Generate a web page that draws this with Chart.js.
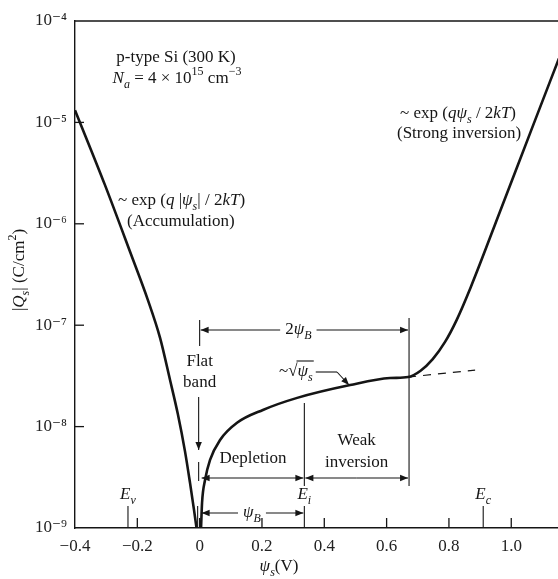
<!DOCTYPE html>
<html>
<head>
<meta charset="utf-8">
<script src="https://cdn.jsdelivr.net/npm/chart.js@4.4.1/dist/chart.umd.min.js"></script>
<style>
  body { margin: 0; background: #fff; }
  #wrap { width: 558px; height: 579px; }
</style>
</head>
<body>
<div id="wrap"><canvas id="myChart" width="558" height="579"></canvas></div>
<script>
var ctx = document.getElementById('myChart').getContext('2d');

/* accumulation branch (psi_s < 0) */
const accPsi = [-0.4, -0.304, -0.223, -0.166, -0.127, -0.095, -0.070, -0.047, -0.031, -0.018, -0.010];
const accQs = [1.32e-5, 2.42e-6, 5.27e-7, 1.77e-7, 7.5e-8, 2.88e-8, 1.33e-8, 5.7e-9, 2.8e-9, 1.5e-9, 1e-9];

/* depletion -> weak -> strong inversion branch */
const invPsi = [0.0045, 0.0077, 0.0173, 0.0334, 0.0655, 0.120, 0.203, 0.313, 0.483, 0.611, 0.669, 0.709, 0.748, 0.787, 0.825, 0.870, 0.967, 1.063, 1.153];
const invQs = [1e-9, 1.77e-9, 2.97e-9, 4.69e-9, 7.38e-9, 1.09e-8, 1.46e-8, 1.92e-8, 2.57e-8, 3.01e-8, 3.08e-8, 3.56e-8, 4.63e-8, 6.8e-8, 1.13e-7, 2.37e-7, 1.40e-6, 8.2e-6, 4.28e-5];

/* sqrt(psi_s) extension (dashed) */
const extPsi = [0.669, 0.884];
const extQs = [3.08e-8, 3.61e-8];

/* axis ticks */
const yTicks = [1e-9, 1e-8, 1e-7, 1e-6, 1e-5, 1e-4];
const xTicks = [-0.4, -0.2, 0, 0.2, 0.4, 0.6, 0.8, 1.0];

/* band-edge markers and psi_B */
const bandNames = ['v', 'i', 'c'];
const bandPsi = [-0.23, 0.336, 0.91];
const psiB = 0.336;

const serif = '"Liberation Serif", "DejaVu Serif", serif';
const ink = '#151515';
const fs = 17;
const sup = {'0':'⁰','1':'¹','2':'²','3':'³','4':'⁴','5':'⁵','6':'⁶','7':'⁷','8':'⁸','9':'⁹','-':'⁻'};

function pts(xs, ys) { return xs.map((x, i) => ({x: x, y: ys[i]})); }

function rich(c, x, y, parts, size, align) {
  const f = p => (p.i ? 'italic ' : '') + ((p.sub || p.sup) ? Math.round(size * 0.68) : size) + 'px ' + serif;
  let w = 0;
  parts.forEach(p => { c.font = f(p); w += c.measureText(p.t).width; });
  let cx = align === 'center' ? x - w / 2 : (align === 'right' ? x - w : x);
  c.textAlign = 'left';
  c.textBaseline = 'middle';
  const xs = [];
  parts.forEach(p => {
    c.font = f(p);
    const dy = p.sub ? size * 0.32 : (p.sup ? -size * 0.4 : 0);
    xs.push(cx);
    c.fillText(p.t, cx, y + dy);
    cx += c.measureText(p.t).width;
  });
  xs.push(cx);
  return xs;
}

function line(c, x1, y1, x2, y2) {
  c.beginPath(); c.moveTo(x1, y1); c.lineTo(x2, y2); c.stroke();
}

function arrow(c, x1, y1, x2, y2) {
  line(c, x1, y1, x2, y2);
  const a = Math.atan2(y2 - y1, x2 - x1), L = 8, W = 3.2;
  c.beginPath();
  c.moveTo(x2, y2);
  c.lineTo(x2 - L * Math.cos(a) + W * Math.sin(a), y2 - L * Math.sin(a) - W * Math.cos(a));
  c.lineTo(x2 - L * Math.cos(a) - W * Math.sin(a), y2 - L * Math.sin(a) + W * Math.cos(a));
  c.closePath();
  c.fill();
}

const notes = {
  id: 'notes',
  afterDraw(chart) {
    const c = chart.ctx, a = chart.chartArea;
    const X = chart.scales.x, Y = chart.scales.y;
    const px = v => X.getPixelForValue(v);
    c.save();
    c.strokeStyle = ink; c.fillStyle = ink; c.lineWidth = 1.3;

    // top frame line and inward tick marks
    line(c, a.left, a.top, a.right, a.top);
    xTicks.forEach(v => { if (v > X.min) line(c, px(v), a.bottom, px(v), a.bottom - 10); });
    yTicks.forEach(v => { const y = Y.getPixelForValue(v); if (v > Y.min && v < Y.max) line(c, a.left, y, a.left + 9, y); });

    c.lineWidth = 1.1;
    // sample description
    rich(c, 176, 58, [{t: 'p-type Si (300 K)'}], fs, 'center');
    rich(c, 177, 79, [{t: 'N', i: 1}, {t: 'a', i: 1, sub: 1}, {t: ' = 4 × 10'}, {t: '15', sup: 1}, {t: ' cm'}, {t: '−3', sup: 1}], fs, 'center');

    // accumulation
    rich(c, 118, 201, [{t: '~ exp ('}, {t: 'q', i: 1}, {t: ' |'}, {t: 'ψ', i: 1}, {t: 's', i: 1, sub: 1}, {t: '| / 2'}, {t: 'kT', i: 1}, {t: ')'}], fs, 'left');
    rich(c, 127, 222, [{t: '(Accumulation)'}], fs, 'left');

    // strong inversion
    rich(c, 400, 114, [{t: '~ exp ('}, {t: 'qψ', i: 1}, {t: 's', i: 1, sub: 1}, {t: ' / 2'}, {t: 'kT', i: 1}, {t: ')'}], fs, 'left');
    rich(c, 397, 134, [{t: '(Strong inversion)'}], fs, 'left');

    const x0 = px(0), xB = px(psiB), x2B = px(2 * psiB);

    // 2 psi_B bracket
    line(c, x0, 320, x0, 346);
    line(c, x2B, 318, x2B, 486);
    const lab = rich(c, (x0 + x2B) / 2 - 6, 330, [{t: '2'}, {t: 'ψ', i: 1}, {t: 'B', i: 1, sub: 1}], fs, 'center');
    arrow(c, lab[0] - 5, 330, x0 + 1, 330);
    arrow(c, lab[lab.length - 1] + 5, 330, x2B - 1, 330);

    // flat band
    rich(c, x0, 362, [{t: 'Flat'}], fs, 'center');
    rich(c, x0, 383, [{t: 'band'}], fs, 'center');
    arrow(c, x0 - 1, 397, x0 - 1, 450);
    line(c, x0 - 1, 462, x0 - 1, 481);

    // sqrt(psi_s) leader
    const sq = rich(c, 279, 372, [{t: '~√'}, {t: 'ψ', i: 1}, {t: 's', i: 1, sub: 1}], fs, 'left');
    line(c, sq[1] - 1, 361, sq[3] + 1, 361);
    line(c, sq[3] + 3, 372, 337, 372);
    arrow(c, 337, 372, 349, 385);

    // depletion / weak inversion brackets
    line(c, xB, 403, xB, 486);
    rich(c, (x0 + xB) / 2 + 1, 459, [{t: 'Depletion'}], fs, 'center');
    arrow(c, (x0 + xB) / 2, 478, x0 + 2, 478);
    arrow(c, (x0 + xB) / 2, 478, xB - 1, 478);
    rich(c, (xB + x2B) / 2, 441, [{t: 'Weak'}], fs, 'center');
    rich(c, (xB + x2B) / 2, 463, [{t: 'inversion'}], fs, 'center');
    arrow(c, (xB + x2B) / 2, 478, xB + 1, 478);
    arrow(c, (xB + x2B) / 2, 478, x2B - 1, 478);

    // band edges
    bandPsi.forEach((v, i) => {
      line(c, px(v), 506, px(v), a.bottom);
      rich(c, px(v), 495, [{t: 'E', i: 1}, {t: bandNames[i], i: 1, sub: 1}], fs, 'center');
    });

    // psi_B bracket
    line(c, x0 - 2, 506, x0 - 2, a.bottom);
    const lb = rich(c, (x0 + xB) / 2, 513, [{t: 'ψ', i: 1}, {t: 'B', i: 1, sub: 1}], fs, 'center');
    arrow(c, lb[0] - 5, 513, x0 + 2, 513);
    arrow(c, lb[lb.length - 1] + 5, 513, xB - 1, 513);

    // axis titles
    rich(c, 279, 567, [{t: 'ψ', i: 1}, {t: 's', i: 1, sub: 1}, {t: '(V)'}], fs, 'center');
    c.translate(20, 270);
    c.rotate(-Math.PI / 2);
    rich(c, 0, 0, [{t: '|'}, {t: 'Q', i: 1}, {t: 's', i: 1, sub: 1}, {t: '| (C/cm'}, {t: '2', sup: 1}, {t: ')'}], fs, 'center');
    c.restore();
  }
};

var myChart = new Chart(ctx, {
  type: 'line',
  data: {
    datasets: [{
      data: pts(accPsi, accQs),
      borderColor: ink,
      borderWidth: 2.6,
      pointRadius: 0,
      cubicInterpolationMode: 'monotone'
    }, {
      data: pts(invPsi, invQs),
      borderColor: ink,
      borderWidth: 2.6,
      pointRadius: 0,
      cubicInterpolationMode: 'monotone'
    }, {
      data: pts(extPsi, extQs),
      borderColor: ink,
      borderWidth: 1.2,
      borderDash: [8, 7],
      pointRadius: 0
    }]
  },
  options: {
    responsive: false,
    animation: false,
    layout: { padding: { top: 21, right: 0, left: 0, bottom: 0 } },
    plugins: { legend: { display: false }, tooltip: { enabled: false } },
    scales: {
      x: {
        type: 'linear',
        min: -0.4,
        max: 1.15,
        afterBuildTicks: s => { s.ticks = xTicks.map(v => ({value: v})); },
        afterFit: s => { s.height = 51; },
        grid: { display: false, drawTicks: false },
        border: { display: true, color: ink, width: 1.4 },
        ticks: {
          color: '#222',
          padding: 8,
          maxRotation: 0,
          font: { family: serif, size: fs },
          callback: v => v === 0 ? '0' : v.toFixed(1).replace('-', '−')
        }
      },
      y: {
        type: 'logarithmic',
        min: 1e-9,
        max: 1e-4,
        afterBuildTicks: s => { s.ticks = yTicks.map(v => ({value: v})); },
        afterFit: s => { s.width = 75; },
        grid: { display: false, drawTicks: false },
        border: { display: true, color: ink, width: 1.4 },
        ticks: {
          color: '#222',
          padding: 8,
          font: { family: serif, size: fs },
          callback: v => '10' + String(Math.round(Math.log10(v))).split('').map(ch => sup[ch]).join('')
        }
      }
    }
  },
  plugins: [notes]
});
</script>
</body>
</html>
